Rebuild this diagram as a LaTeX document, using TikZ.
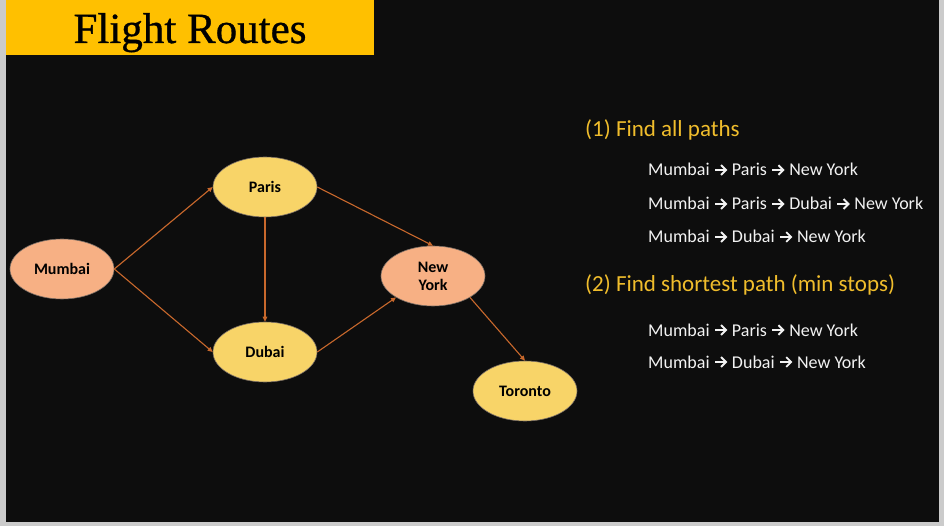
\documentclass[tikz,border=0pt]{standalone}
\usepackage{fontspec}
\setmainfont{Carlito}
\newfontfamily\titlefont[FakeBold=0.8]{Liberation Serif}
\usetikzlibrary{shapes.geometric,arrows.meta}

\definecolor{slidebg}{HTML}{0D0D0D}
\definecolor{framegrey}{HTML}{CBCBCB}
\definecolor{titlegold}{HTML}{FFC000}
\definecolor{peach}{HTML}{F7B084}
\definecolor{sand}{HTML}{F8D468}
\definecolor{nodeline}{HTML}{7A6E66}
\definecolor{edgeorange}{HTML}{C8682C}
\definecolor{headgold}{HTML}{F0BD2C}
\definecolor{listwhite}{HTML}{F2F2F2}

% open-headed arrow used between the cities of a path
\newsavebox\arrowbox
\newcommand{\ra}{\usebox\arrowbox}

\tikzset{
  city/.style={ellipse, draw=nodeline, line width=0.6pt, inner sep=0pt,
    minimum width=104pt, minimum height=60pt, align=center,
    font=\bfseries\fontsize{16pt}{18pt}\selectfont, text=black},
  hub/.style={city, fill=peach},
  stop/.style={city, fill=sand},
  route/.style={draw=edgeorange, line width=1.1pt,
    -{Triangle[length=5pt,width=4.5pt]}},
  heading/.style={anchor=base west, text=headgold, inner sep=0pt,
    font=\fontsize{23pt}{27pt}\selectfont},
  pathline/.style={anchor=base west, text=listwhite, inner sep=0pt,
    font=\fontsize{18pt}{21pt}\selectfont}
}

\begin{document}
\sbox\arrowbox{\begin{pgfpicture}
  \pgfsetbaseline{0pt}
  \pgfpathrectangle{\pgfpointorigin}{\pgfpoint{14.2pt}{11pt}}
  \pgfusepath{use as bounding box}
  \pgfsetstrokecolor{listwhite}
  \pgfsetlinewidth{1.9pt}
  \pgfpathmoveto{\pgfpoint{1.3pt}{6pt}}
  \pgfpathlineto{\pgfpoint{12.1pt}{6pt}}
  \pgfusepath{stroke}
  \pgfsetmiterjoin
  \pgfpathmoveto{\pgfpoint{7.4pt}{10.9pt}}
  \pgfpathlineto{\pgfpoint{12.3pt}{6pt}}
  \pgfpathlineto{\pgfpoint{7.4pt}{1.1pt}}
  \pgfusepath{stroke}
\end{pgfpicture}}%
\begin{tikzpicture}[x=1pt,y=-1pt]
  % window frame and slide
  \fill[framegrey] (0,0) rectangle (944,526);
  \fill[slidebg] (6,0) rectangle (939,522);
  \useasboundingbox (0,0) rectangle (944,526);

  % title banner
  \fill[titlegold] (6,0) rectangle (374,55);
  \node[anchor=base, inner sep=0pt, text=black,
        font=\titlefont\fontsize{43pt}{50pt}\selectfont] (title) at (190,43) {Flight Routes};

  % city graph
  \node[hub]  (mumbai)  at (62,269)  {Mumbai};
  \node[stop] (paris)   at (265,187) {Paris};
  \node[stop] (dubai)   at (265,352) {Dubai};
  \node[hub]  (newyork) at (433,276) {New\\York};
  \node[stop] (toronto) at (525,391) {Toronto};

  \draw[route] (mumbai.east) -- (paris.west);
  \draw[route] (mumbai.east) -- (dubai.west);
  \draw[route] (paris.south) -- (dubai.north);
  \draw[route] (paris.east) -- (newyork.north);
  \draw[route] (dubai.east) -- (newyork.south west);
  \draw[route] (newyork.south east) -- (toronto.north);

  % task list
  \node[heading] (q1) at (585,137) {(1) Find all paths};
  \node[pathline] (p1) at (648,176) {Mumbai \ra{} Paris \ra{} New York};
  \node[pathline] (p2) at (648,210) {Mumbai \ra{} Paris \ra{} Dubai \ra{} New York};
  \node[pathline] (p3) at (648,243) {Mumbai \ra{} Dubai \ra{} New York};

  \node[heading] (q2) at (585,292) {(2) Find shortest path (min stops)};
  \node[pathline] (s1) at (648,336) {Mumbai \ra{} Paris \ra{} New York};
  \node[pathline] (s2) at (648,368) {Mumbai \ra{} Dubai \ra{} New York};
\end{tikzpicture}
\end{document}
